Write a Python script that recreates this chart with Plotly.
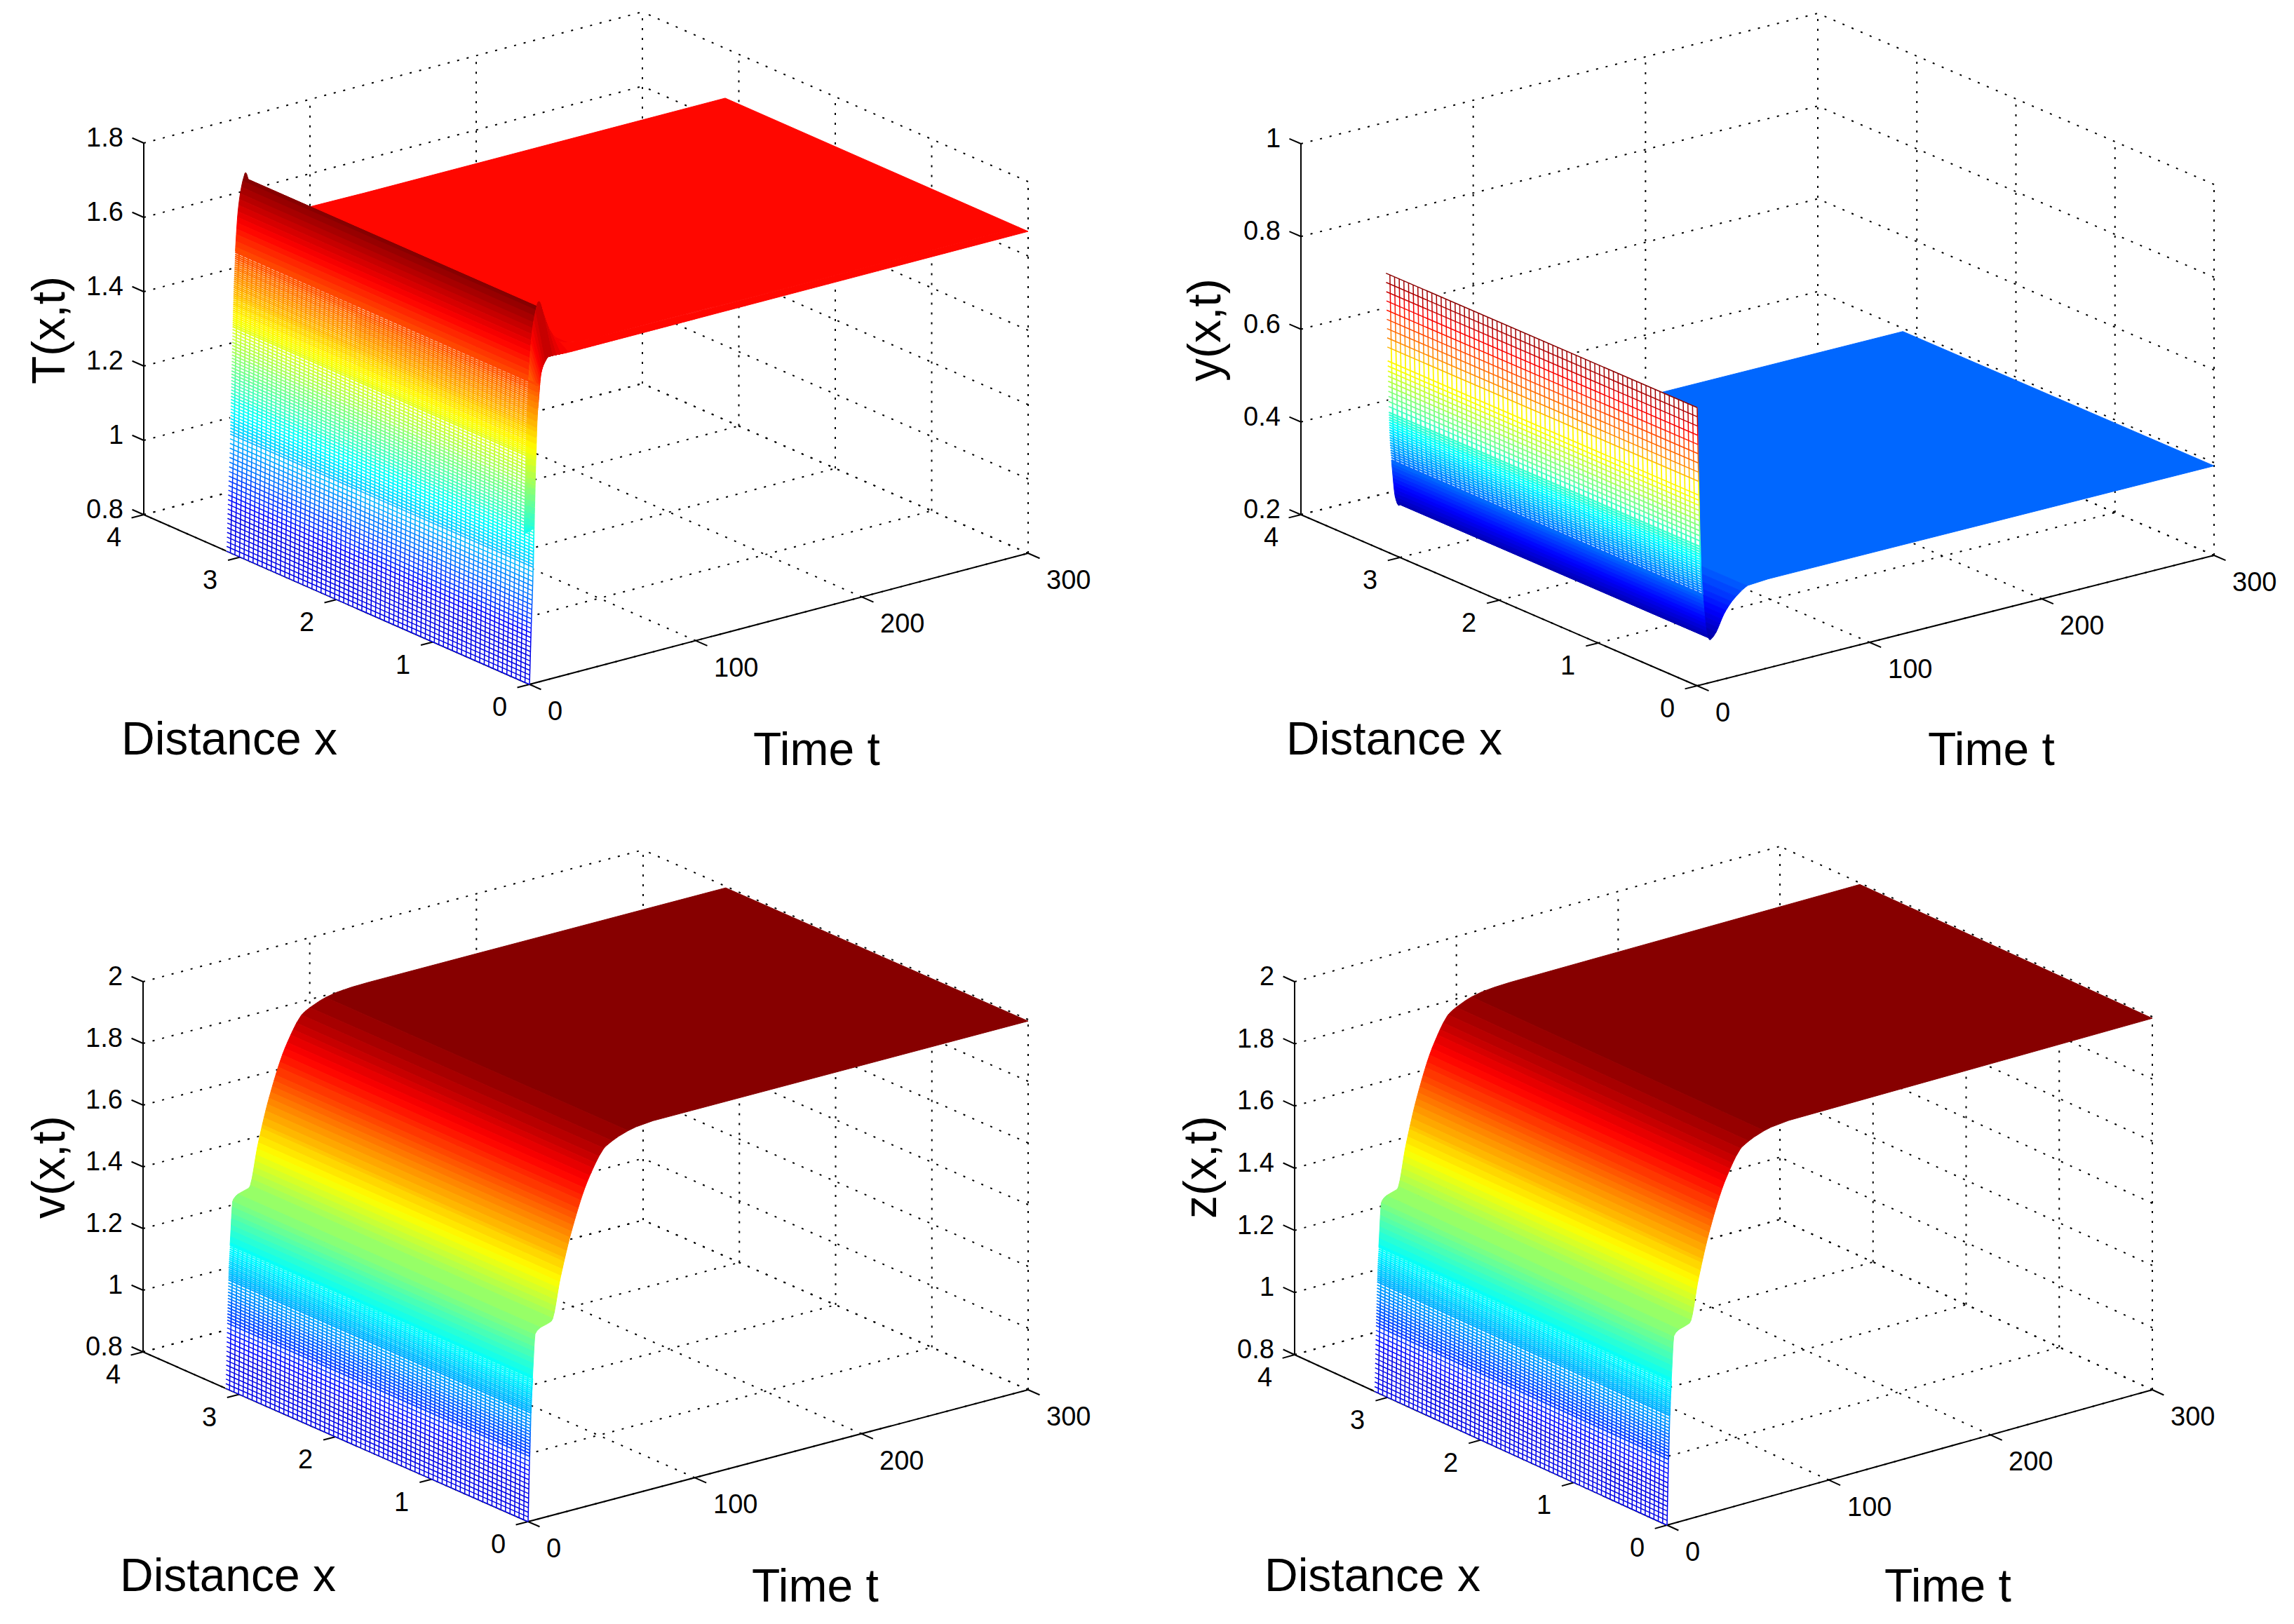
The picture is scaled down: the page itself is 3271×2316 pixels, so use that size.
import numpy as np
import plotly.graph_objects as go

# ---------- data ----------
x_ticks = [0, 1, 2, 3, 4]
t_ticks = [0, 100, 200, 300]
T_ticks = [0.8, 1, 1.2, 1.4, 1.6, 1.8]
y_ticks = [0.2, 0.4, 0.6, 0.8, 1]
v_ticks = [0.8, 1, 1.2, 1.4, 1.6, 1.8, 2]
z_ticks = [0.8, 1, 1.2, 1.4, 1.6, 1.8, 2]

x_max = 3.1416
x_edge = 0.1

T_time = [0, 1, 2, 3, 4.4, 5.3, 7, 9, 11.4, 14, 18, 25, 40, 100, 300]
T_core = [0.8, 0.95, 1.08, 1.28, 1.515, 1.6, 1.71, 1.77, 1.805, 1.77, 1.72, 1.68, 1.668, 1.666, 1.666]
T_edge = [0.8, 0.9, 1.1, 1.3, 1.5, 1.55, 1.63, 1.655, 1.668, 1.668, 1.667, 1.666, 1.666, 1.666, 1.666]

y_time = [0, 1.07, 2.2, 3.2, 3.7, 5.4, 7.5, 10, 16, 22, 31, 60, 300]
y_core = [0.80, 0.595, 0.44, 0.394, 0.372, 0.312, 0.292, 0.3, 0.343, 0.37, 0.39, 0.393, 0.393]

v_time = [0, 1, 2.15, 2.6, 4.3, 7.5, 14, 19.4, 25.8, 36.6, 47.3, 68.8, 83, 300]
v_core = [0.8, 1.03, 1.226, 1.26, 1.403, 1.419, 1.43, 1.564, 1.70, 1.864, 1.953, 1.99, 1.994, 1.995]

z_time = [0, 1, 2.15, 2.6, 4.3, 7.5, 14, 19.4, 25.8, 36.6, 47.3, 68.8, 83, 300]
z_core = [0.8, 1.03, 1.226, 1.26, 1.403, 1.419, 1.43, 1.564, 1.70, 1.864, 1.953, 1.99, 1.994, 1.995]

W, H = 3271, 2316
MESH_DX = 0.047
MESH_WIDTHS = [1.5, 1.8, 2.2]
MESH_MIN_COLOR = 6
TICK_LEN = 18
FONT = "Liberation Sans"

panels = [
    dict(time=T_time, core=T_core, edge=T_edge, ticks=T_ticks, zr=(0.8, 1.8), c=(0.8, 1.8), thr=1.6, low=True,
         bands=[(0.8, 1.12, .0125), (1.12, 1.4, .0085), (1.4, 1.6, .0055)],
         O=(755, 976), Tt=(1466, 789), Tx=(205, 734), Tz=(205, 204),
         ann=[("Distance x", 327, 1053, 0), ("Time t", 1164, 1068, 0), ("T(x,t)", 69, 471, -90)]),
    dict(time=y_time, core=y_core, edge=None, ticks=y_ticks, zr=(0.2, 1), c=(0.2727, 0.80), thr=0.394, low=False,
         bands=[(0.62, 0.80, .02), (0.5, 0.62, .011), (0.394, 0.5, .0055)],
         O=(2420, 978), Tt=(3157, 792), Tx=(1855, 734), Tz=(1855, 205),
         ann=[("Distance x", 1988, 1053, 0), ("Time t", 2839, 1068, 0), ("y(x,t)", 1717, 471, -90)]),
    dict(time=v_time, core=v_core, edge=None, ticks=v_ticks, zr=(0.8, 2), c=(0.8, 2.0), thr=1.26, low=True,
         bands=[(0.8, 1.0, .015), (1.0, 1.15, .01), (1.15, 1.26, .0065)],
         O=(753, 2170), Tt=(1466, 1982), Tx=(204, 1928), Tz=(204, 1400),
         ann=[("Distance x", 325, 2246, 0), ("Time t", 1162, 2261, 0), ("v(x,t)", 69, 1665, -90)]),
    dict(time=z_time, core=z_core, edge=None, ticks=z_ticks, zr=(0.8, 2), c=(0.8, 2.0), thr=1.26, low=True,
         bands=[(0.8, 1.0, .015), (1.0, 1.15, .01), (1.15, 1.26, .0065)],
         O=(2377, 2175), Tt=(3069, 1982), Tx=(1846, 1932), Tz=(1846, 1400),
         ann=[("Distance x", 1957, 2246, 0), ("Time t", 2777, 2261, 0), ("z(x,t)", 1711, 1665, -90)]),
]


def jet(i):
    f = (i + 0.5) / 64
    r = np.clip(min(4 * f - 1.5, -4 * f + 4.5), 0, 1)
    g = np.clip(min(4 * f - 0.5, -4 * f + 3.5), 0, 1)
    b = np.clip(min(4 * f + 0.5, -4 * f + 2.5), 0, 1)
    return "rgb(%d,%d,%d)" % (r * 255, g * 255, b * 255)


def pchip(xk, yk, xq):
    xk, yk = np.array(xk, float), np.array(yk, float)
    h = np.diff(xk)
    dl = np.diff(yk) / h
    m = np.zeros_like(yk)
    m[0], m[-1] = dl[0], dl[-1]
    for i in range(1, len(xk) - 1):
        if dl[i - 1] * dl[i] > 0:
            w1, w2 = 2 * h[i] + h[i - 1], h[i] + 2 * h[i - 1]
            m[i] = (w1 + w2) / (w1 / dl[i - 1] + w2 / dl[i])
    k = np.clip(np.searchsorted(xk, xq, side="right") - 1, 0, len(h) - 1)
    s = (xq - xk[k]) / h[k]
    return ((2 * s**3 - 3 * s**2 + 1) * yk[k] + (s**3 - 2 * s**2 + s) * h[k] * m[k]
            + (-2 * s**3 + 3 * s**2) * yk[k + 1] + (s**3 - s**2) * h[k] * m[k + 1])


fig = go.Figure()
annotations = []
t_fine = np.concatenate([np.arange(0, 20, 0.05), np.arange(20, 100, 0.5), np.arange(100, 301, 10)])


def line(xs, ys, color, width, dash="solid"):
    fig.add_trace(go.Scatter(x=xs, y=ys, mode="lines", hoverinfo="skip",
                             line=dict(color=color, width=width, dash=dash)))


def fill(xs, ys, color):
    fig.add_trace(go.Scatter(x=xs, y=ys, mode="lines", fill="toself", fillcolor=color, hoverinfo="skip",
                             line=dict(color=color, width=1)))


for p in panels:
    O = np.array(p["O"], float)
    vt = (np.array(p["Tt"], float) - O) / 300
    vx = (np.array(p["Tx"], float) - O) / 4
    zlo, zhi = p["zr"]
    vz = (np.array(p["Tz"], float) - np.array(p["Tx"], float)) / (zhi - zlo)
    cmin, cmax = p["c"]

    def scr(t, x, z):
        return (O[0] + t * vt[0] + x * vx[0] + (z - zlo) * vz[0],
                O[1] + t * vt[1] + x * vx[1] + (z - zlo) * vz[1])

    def cidx(z):
        return np.clip(((np.asarray(z) - cmin) / (cmax - cmin) * 64).astype(int), 0, 63)

    # dotted grid on back walls and floor
    gx, gy = [], []

    def seg(a, b):
        pa, pb = scr(*a), scr(*b)
        gx.extend([pa[0], pb[0], None])
        gy.extend([pa[1], pb[1], None])

    for tv in t_ticks:
        seg((tv, 0, zlo), (tv, 4, zlo))
        seg((tv, 4, zlo), (tv, 4, zhi))
    for xv in x_ticks:
        seg((0, xv, zlo), (300, xv, zlo))
        seg((300, xv, zlo), (300, xv, zhi))
    for zv in p["ticks"]:
        seg((0, 4, zv), (300, 4, zv))
        seg((300, 0, zv), (300, 4, zv))
    line(gx, gy, "black", 2, "3px,11px")

    # solid axis lines and tick marks
    ax_x, ax_y = [], []

    def aseg(a, b):
        ax_x.extend([a[0], b[0], None])
        ax_y.extend([a[1], b[1], None])

    aseg(scr(0, 0, zlo), scr(300, 0, zlo))
    aseg(scr(0, 0, zlo), scr(0, 4, zlo))
    aseg(scr(0, 4, zlo), scr(0, 4, zhi))
    ut = vt / np.linalg.norm(vt)
    ux = vx / np.linalg.norm(vx)
    for zv in p["ticks"]:
        a = np.array(scr(0, 4, zv))
        aseg(a, a + ux * TICK_LEN)
        annotations.append(dict(text=str(zv), x=a[0] - 27, y=a[1] - 8, xanchor="right", yanchor="middle"))
    for xv in x_ticks:
        a = np.array(scr(0, xv, zlo))
        aseg(a, a - ut * TICK_LEN)
        annotations.append(dict(text=str(xv), x=a[0] - 43, y=a[1] + 32, xanchor="center", yanchor="middle"))
    for tv in t_ticks:
        a = np.array(scr(tv, 0, zlo))
        aseg(a, a - ux * TICK_LEN)
        annotations.append(dict(text=str(tv), x=a[0] + 24, y=a[1] + 38, xanchor="left", yanchor="middle"))
    line(ax_x, ax_y, "black", 2)

    # surface, far to near: runs of equal colour become one filled strip
    z_fine = pchip(p["time"], p["core"], t_fine)
    z_mid = (z_fine[:-1] + z_fine[1:]) / 2
    idx = cidx(z_mid)
    thr = p["thr"]
    mesh_zone = z_mid < thr if p["low"] else z_mid > thr
    j = len(z_mid) - 1
    x_near = x_edge if p["edge"] is not None else 0
    while j >= 0:
        i = j
        while i > 0 and idx[i - 1] == idx[j] and mesh_zone[i - 1] == mesh_zone[j]:
            i -= 1
        ts, zs = t_fine[i:j + 2], z_fine[i:j + 2]
        a = scr(ts, x_max, zs)
        b = scr(ts[::-1], x_near, zs[::-1])
        color = "white" if mesh_zone[j] else jet(int(idx[j]))
        fill(list(a[0]) + list(b[0]) + [a[0][0]], list(a[1]) + list(b[1]) + [a[1][0]], color)
        j = i - 1

    # thin boundary strip next to x = 0
    if p["edge"] is not None:
        e_fine = pchip(p["time"], p["edge"], t_fine)
        polys = {}
        for k in range(len(z_mid) - 1, -1, -1):
            mean_z = (z_fine[k] + z_fine[k + 1] + e_fine[k] + e_fine[k + 1]) / 4
            c = -1 if mean_z < 1.2 else int(cidx(mean_z))
            q = [scr(t_fine[k], x_edge, z_fine[k]), scr(t_fine[k + 1], x_edge, z_fine[k + 1]),
                 scr(t_fine[k + 1], 0, e_fine[k + 1]), scr(t_fine[k], 0, e_fine[k])]
            xs, ys = polys.setdefault(c, ([], []))
            xs.extend([v[0] for v in q] + [q[0][0], None])
            ys.extend([v[1] for v in q] + [q[0][1], None])
        for c, (xs, ys) in polys.items():
            fill(xs, ys, "white" if c < 0 else jet(c))

    # open mesh of coloured edges on the steep front
    leg_end = int(np.argmax(z_fine >= thr)) if p["low"] else int(np.argmax(z_fine <= thr))
    leg_t, leg_z = t_fine[:leg_end + 1], z_fine[:leg_end + 1]
    order = np.argsort(leg_z)
    dz_rank = sorted((b[2] for b in p["bands"]), reverse=True)
    raw = []
    for a, b, dz in sorted(p["bands"]):
        w = MESH_WIDTHS[dz_rank.index(dz)]
        for v in np.arange(a, b, dz):
            if raw and v - raw[-1][0] < 0.6 * dz:
                continue
            raw.append((float(v), w))
    if min(abs(v - thr) for v, _ in raw) > 1e-3:
        raw.append((thr, MESH_WIDTHS[-1]))
    raw.sort()
    levels = np.array([v for v, _ in raw])
    lw = [w for _, w in raw]
    lt = np.interp(levels, leg_z[order], leg_t[order])
    lc = np.maximum(cidx(levels), MESH_MIN_COLOR)
    groups = {}
    first = scr(lt, 0, levels)
    far = scr(lt, x_max, levels)
    for k in range(len(levels)):
        xs, ys = groups.setdefault((int(lc[k]), lw[k]), ([], []))
        xs.extend([first[0][k], far[0][k], None])
        ys.extend([first[1][k], far[1][k], None])
    for xv in np.arange(0.0, x_max + 0.001, MESH_DX):
        sx, sy = scr(lt, xv, levels)
        k = 0
        while k < len(levels) - 1:
            m = k
            while m < len(levels) - 2 and lc[m + 1] == lc[k] and lw[m + 1] == lw[k]:
                m += 1
            xs, ys = groups.setdefault((int(lc[k]), lw[k]), ([], []))
            xs.extend([sx[k], sx[m + 1], None])
            ys.extend([sy[k], sy[m + 1], None])
            k = m + 1
    for (c, w), (xs, ys) in groups.items():
        line(xs, ys, jet(c), w)

    for text, ax_, ay_, rot in p["ann"]:
        annotations.append(dict(text=text, x=ax_, y=ay_, xanchor="center", yanchor="middle", textangle=rot,
                                font=dict(family=FONT, size=66, color="black")))

for a in annotations:
    a.setdefault("font", dict(family=FONT, size=38, color="black"))
    a.update(xref="x", yref="y", showarrow=False)

fig.update_layout(
    width=W, height=H, margin=dict(l=0, r=0, t=0, b=0), autosize=False,
    paper_bgcolor="white", plot_bgcolor="white", showlegend=False, hovermode=False,
    annotations=annotations,
    xaxis=dict(range=[0, W], visible=False, fixedrange=True),
    yaxis=dict(range=[H, 0], visible=False, fixedrange=True))
fig.write_html("out.html", config=dict(displayModeBar=False),
               post_script="document.body.style.margin='0';")
